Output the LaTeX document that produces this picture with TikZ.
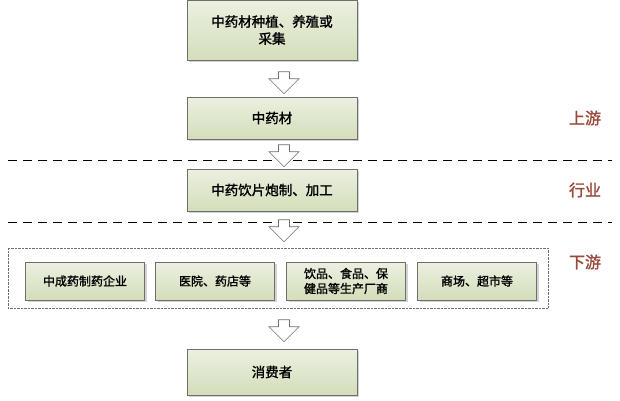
\documentclass[tikz,border=0pt]{standalone}
\usepackage{fontspec}
\setmainfont{Noto Sans CJK SC}[AutoFakeBold=1.5]
\usepackage{tikz}
\usetikzlibrary{shapes.arrows,shadows}
\definecolor{boxgreen}{HTML}{D3DEBA}
\definecolor{boxedge}{HTML}{6E6E6E}
\definecolor{tagbrown}{HTML}{9A4A3C}
\begin{document}
\begin{tikzpicture}[x=1pt, y=-1pt,
    every node/.style={font=\bfseries\fontsize{13.5}{17}\selectfont, align=center},
    stage/.style={draw=boxedge, line width=0.8pt, top color=boxgreen!45, bottom color=boxgreen,
        minimum width=170pt, minimum height=42pt, drop shadow={opacity=0.35, shadow xshift=2pt, shadow yshift=-2pt}},
    outlet/.style={stage, minimum width=119pt, minimum height=38pt, font=\bfseries\fontsize{12}{15}\selectfont},
    flow/.style={single arrow, shape border rotate=270, draw=boxedge, fill=white, line width=0.6pt,
        minimum width=30pt, single arrow head extend=4pt, minimum height=22pt, inner sep=2pt},
    tag/.style={text=tagbrown, font=\bfseries\fontsize{16}{18}\selectfont}]
    \useasboundingbox (0,0) rectangle (620,400);

    \node[stage, minimum height=60pt] (grow) at (272, 30) {中药材种植、养殖或\\采集};
    \node[stage] (herb) at (272, 118) {中药材};
    \node[stage] (slice) at (272, 190) {中药饮片炮制、加工};
    \node[stage, minimum height=46pt] (user) at (272, 372) {消费者};

    \draw[dash pattern=on 9pt off 6pt, line width=1pt] (8, 160) -- (612, 160);
    \draw[dash pattern=on 9pt off 6pt, line width=1pt] (8, 222) -- (612, 222);

    \draw[densely dotted, draw=boxedge] (8, 248) rectangle (548, 308);
    \node[outlet] (pharma) at (85, 281) {中成药制药企业};
    \node[outlet] (clinic) at (215, 281) {医院、药店等};
    \node[outlet] (food) at (346, 281) {饮品、食品、保\\健品等生产厂商};
    \node[outlet] (mall) at (477, 281) {商场、超市等};

    \node[flow] (a1) at (284, 80) {};
    \node[flow] (a2) at (284, 153) {};
    \node[flow] (a3) at (284, 228) {};
    \node[flow] (a4) at (284, 328) {};

    \node[tag] (up) at (585, 118) {上游};
    \node[tag] (mid) at (585, 190) {行业};
    \node[tag] (down) at (585, 262) {下游};
\end{tikzpicture}
\end{document}
